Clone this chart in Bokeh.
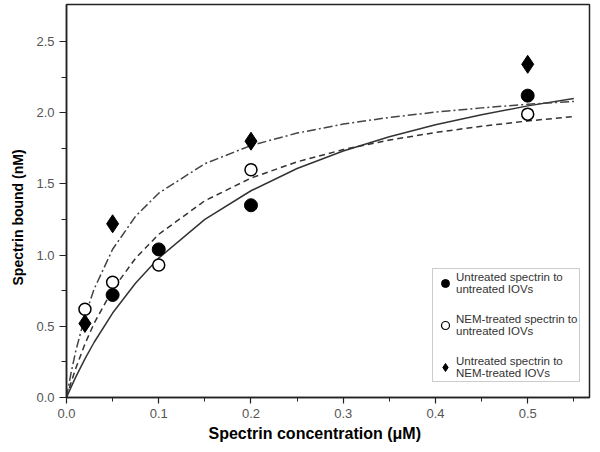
from bokeh.plotting import figure
from bokeh.models import Range1d, FixedTicker, NumeralTickFormatter, Legend, LegendItem, Title
from bokeh.embed import file_html
from bokeh.resources import INLINE

# ---- data ----
conc_filled = [0.05, 0.1, 0.2, 0.5]
bound_filled = [0.72, 1.04, 1.35, 2.12]

conc_open = [0.02, 0.05, 0.1, 0.2, 0.5]
bound_open = [0.62, 0.81, 0.93, 1.60, 1.99]

conc_diamond = [0.02, 0.05, 0.2, 0.5]
bound_diamond = [0.52, 1.22, 1.80, 2.34]

curve_x = [0, 0.005, 0.01, 0.02, 0.03, 0.05, 0.075, 0.1, 0.15, 0.2, 0.25, 0.3,
           0.35, 0.4, 0.45, 0.5, 0.55]
curve_solid = [0, 0.073, 0.143, 0.271, 0.388, 0.593, 0.804, 0.979, 1.251, 1.452,
               1.608, 1.731, 1.831, 1.915, 1.985, 2.048, 2.100]
curve_dashed = [0, 0.107, 0.204, 0.376, 0.522, 0.758, 0.979, 1.146, 1.382, 1.541,
                1.655, 1.741, 1.808, 1.861, 1.905, 1.942, 1.973]
curve_dashdot = [0, 0.175, 0.325, 0.570, 0.762, 1.041, 1.274, 1.435, 1.642, 1.770,
                 1.857, 1.920, 1.967, 2.004, 2.034, 2.059, 2.079]

x_ticks = [0.0, 0.1, 0.2, 0.3, 0.4, 0.5]
x_minor = [0.05, 0.15, 0.25, 0.35, 0.45, 0.55]
y_ticks = [0.0, 0.5, 1.0, 1.5, 2.0, 2.5]
y_minor = [0.25, 0.75, 1.25, 1.75, 2.25]

labels = ["Untreated spectrin to\nuntreated IOVs",
          "NEM-treated spectrin to\nuntreated IOVs",
          "Untreated spectrin to\nNEM-treated IOVs"]

x_title = "Spectrin concentration (\u03bcM)"
y_title = "Spectrin bound (nM)"

FONT = "Liberation Sans"

p = figure(width=592, height=444, output_backend="svg", toolbar_location=None,
           x_range=Range1d(0, 0.567), y_range=Range1d(0, 2.76),
           min_border_left=66, min_border_right=3, min_border_top=4, min_border_bottom=47)
p.xgrid.visible = False
p.ygrid.visible = False
p.outline_line_color = "#222222"
p.outline_line_width = 1.5
p.background_fill_color = "white"

# curves
p.line(curve_x, curve_solid, line_color="#333333", line_width=1.5)
p.line(curve_x, curve_dashed, line_color="#333333", line_width=1.5, line_dash="6 4")
p.line(curve_x, curve_dashdot, line_color="#444444", line_width=1.5, line_dash="9 3 2 3")

# small markers (used for the legend glyphs, hidden under the larger ones)
r1 = p.scatter(conc_filled, bound_filled, marker="circle", size=9,
               fill_color="black", line_color="black")
r2 = p.scatter(conc_open, bound_open, marker="circle", size=9,
               fill_color="white", line_color="black", line_width=1.2)
r3 = p.scatter(conc_diamond, bound_diamond, marker="diamond", size=13,
               fill_color="black", line_color="black")

# points
p.scatter(conc_filled, bound_filled, marker="circle", size=13,
          fill_color="black", line_color="black")
p.scatter(conc_open, bound_open, marker="circle", size=12,
          fill_color="white", line_color="black", line_width=1.5)
p.scatter(conc_diamond, bound_diamond, marker="diamond", size=18,
          fill_color="black", line_color="black")

legend = Legend(items=[LegendItem(label=labels[0], renderers=[r1]),
                       LegendItem(label=labels[1], renderers=[r2]),
                       LegendItem(label=labels[2], renderers=[r3])],
                location=(366, 15), orientation="vertical",
                label_text_font=FONT, label_text_font_size="11.5px",
                label_text_line_height=1.22,
                label_text_color="#333333", label_standoff=1,
                glyph_width=20, glyph_height=22, label_height=14,
                spacing=18, padding=2, margin=0,
                border_line_color="#999999", border_line_width=1,
                background_fill_color="white", background_fill_alpha=1.0)
p.add_layout(legend)

# axes
for ax in (p.xaxis[0], p.yaxis[0]):
    ax.axis_line_color = "#222222"
    ax.axis_line_width = 1.5
    ax.major_tick_line_color = "#222222"
    ax.minor_tick_line_color = "#222222"
    ax.major_tick_line_width = 1.2
    ax.minor_tick_line_width = 1.0
    ax.major_tick_in = 0
    ax.minor_tick_in = 0
    ax.major_label_text_font = FONT
    ax.major_label_text_font_size = "13px"
    ax.major_label_text_color = "#555555"
    ax.formatter = NumeralTickFormatter(format="0.0")

p.xaxis.ticker = FixedTicker(ticks=x_ticks, minor_ticks=x_minor)
p.yaxis.ticker = FixedTicker(ticks=y_ticks, minor_ticks=y_minor)
p.xaxis.major_tick_out = 6
p.xaxis.minor_tick_out = 4
p.yaxis.major_tick_out = 7
p.yaxis.minor_tick_out = 5
p.xaxis.major_label_standoff = 5
p.yaxis.major_label_standoff = 5

# axis titles (placed as Titles so they can sit off-centre like the reference)
p.add_layout(Title(text=x_title, align="left", offset=142, standoff=4,
                   text_font=FONT, text_font_size="16px", text_font_style="bold",
                   text_color="black"), "below")
p.add_layout(Title(text=y_title, align="left", offset=112, standoff=15,
                   text_font=FONT, text_font_size="14px", text_font_style="bold",
                   text_color="black"), "left")

open("out.html", "w").write(file_html(p, INLINE))
